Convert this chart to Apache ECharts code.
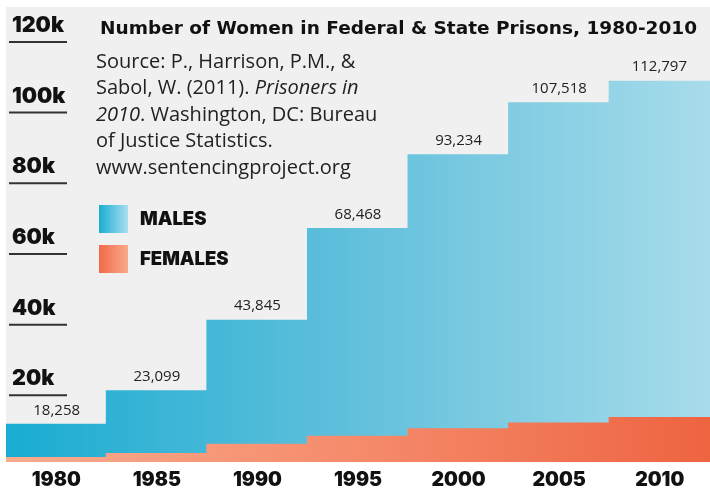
<!DOCTYPE html>
<html>
<head>
<meta charset="utf-8">
<script src="https://cdn.jsdelivr.net/npm/echarts@6/dist/echarts.min.js"></script>
<style>html,body{margin:0;padding:0;background:#fff}#c{width:710px;height:490px}</style>
</head>
<body>
<div id="c"></div>
<script>
// ---- data ----
var years = ['1980', '1985', '1990', '1995', '2000', '2005', '2010'];
// heights of the blue (males) steps as drawn
var malesDrawn = [10790, 20280, 40280, 66200, 87050, 101780, 107890];
// heights of the orange (females) steps as drawn
var femalesDrawn = [1400, 2540, 5150, 7410, 9580, 11180, 12760];
// numbers printed above each step
var stepLabels = [18258, 23099, 43845, 68468, 93234, 107518, 112797];
// y tick labels
var yTickValues = [20000, 40000, 60000, 80000, 100000, 120000];
var yTickText = ['20k', '40k', '60k', '80k', '100k', '120k'];

var chart = echarts.init(document.getElementById('c'), null, {renderer: 'canvas'});
var G = echarts.graphic.LinearGradient;
function blueGrad() {
  return new G(6, 0, 710, 0, [
    {offset: 0, color: '#19acd1'},
    {offset: 0.5, color: '#62c0dc'},
    {offset: 1, color: '#a8dcea'}
  ], true);
}
function orangeGrad() {
  return new G(6, 0, 710, 0, [
    {offset: 0, color: '#f9ab8e'},
    {offset: 0.5, color: '#f58b6b'},
    {offset: 1, color: '#ee6441'}
  ], true);
}
var heavy = 'Inter';
var body = 'Open Sans';

function fmtNum(n) { return n.toString().replace(/\B(?=(\d{3})+(?!\d))/g, ','); }

chart.setOption({
  backgroundColor: '#ffffff',
  animation: false,
  title: {
    text: 'Number of Women in Federal & State Prisons, 1980-2010',
    left: 100, top: 20, padding: 0,
    textStyle: {fontFamily: 'DejaVu Sans', fontWeight: 'bold', fontSize: 18.5, color: '#111'}
  },
  legend: {
    orient: 'vertical', left: 99, top: 205, padding: 0,
    itemWidth: 29, itemHeight: 28, itemGap: 12, icon: 'rect',
    selectedMode: false,
    textStyle: {fontFamily: heavy, fontWeight: 900, fontSize: 18.5, color: '#111', padding: [0, 0, 0, 7]},
    data: [
      {name: 'MALES', itemStyle: {color: new G(0, 0, 1, 0, [{offset: 0, color: '#1aaed2'}, {offset: 1, color: '#a9def0'}]), borderWidth: 0}},
      {name: 'FEMALES', itemStyle: {color: new G(0, 0, 1, 0, [{offset: 0, color: '#f26a48'}, {offset: 1, color: '#f9aa8c'}]), borderWidth: 0}}
    ]
  },
  grid: {
    left: 6, right: 0, top: 7, bottom: 26,
    show: true, backgroundColor: '#f0f0f0', borderWidth: 0
  },
  xAxis: {
    type: 'category', data: years,
    axisLine: {show: false}, axisTick: {show: false},
    axisLabel: {margin: 8, fontFamily: heavy, fontWeight: 900, fontSize: 19.5, color: '#111'}
  },
  yAxis: {
    type: 'value', min: 0, max: 128740,
    splitLine: {show: false}, axisLine: {show: false}, axisTick: {show: false},
    axisLabel: {
      inside: true, margin: 3, align: 'left', verticalAlign: 'middle',
      customValues: yTickValues,
      formatter: function (v) {
        var i = yTickValues.indexOf(v);
        return '{t|' + yTickText[i] + '}\n{u|}';
      },
      rich: {
        t: {fontFamily: heavy, fontWeight: 900, fontSize: 21.5, color: '#111', lineHeight: 8, padding: [0, 0, 0, 3]},
        u: {width: 58, height: 2, lineHeight: 25, backgroundColor: '#333'}
      }
    }
  },
  graphic: [{
    type: 'text', left: 96, top: 49, z: 10,
    style: {
      text: 'Source: P., Harrison, P.M., &\nSabol, W. (2011). {i|Prisoners in}\n{i|2010}. Washington, DC: Bureau\nof Justice Statistics.\nwww.sentencingproject.org',
      fontFamily: body, fontSize: 20, lineHeight: 26.5, fill: '#222',
      rich: {i: {fontFamily: body, fontStyle: 'italic', fontSize: 20, lineHeight: 26.5, color: '#222'}}
    }
  }],
  series: [{
    name: 'MALES', type: 'bar', data: malesDrawn,
    barCategoryGap: '-1.5%', barGap: '-100%',
    itemStyle: {color: blueGrad()},
    label: {
      show: true, position: 'top', distance: 6,
      fontFamily: body, fontSize: 15, color: '#222',
      formatter: function (p) { return fmtNum(stepLabels[p.dataIndex]); }
    },
    z: 2
  }, {
    name: 'FEMALES', type: 'bar', data: femalesDrawn,
    barCategoryGap: '-1.5%', barGap: '-100%',
    itemStyle: {color: orangeGrad()},
    z: 3
  }]
});
</script>
</body>
</html>
